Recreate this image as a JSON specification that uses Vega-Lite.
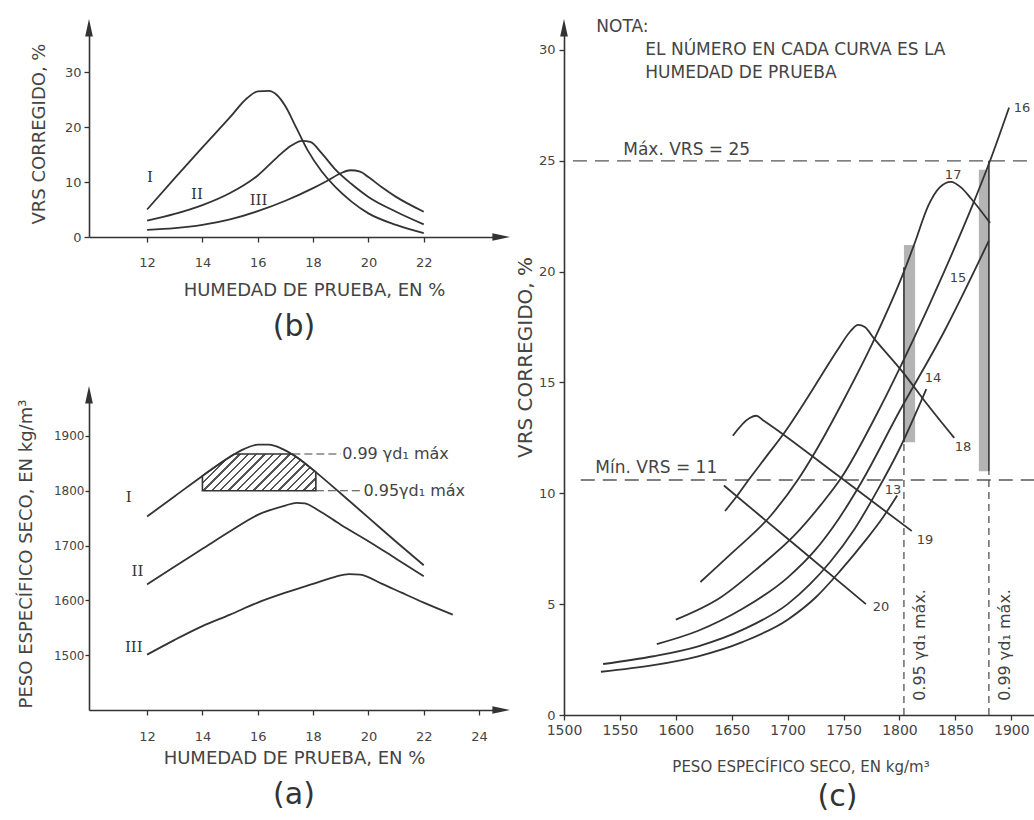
{
  "$schema": "https://vega.github.io/schema/vega-lite/v6.json",
  "padding": {"left": 17, "top": 18, "right": 0, "bottom": 0},
  "background": "white",
  "config": {
    "view": {"stroke": null},
    "font": "DejaVu Sans",
    "axis": {
      "grid": false,
      "domainColor": "#333",
      "domainWidth": 1.6,
      "tickColor": "#333",
      "tickWidth": 1.3,
      "tickSize": 5,
      "labelColor": "#444",
      "labelFont": "DejaVu Sans",
      "labelFontSize": 13,
      "labelFlush": false,
      "labelOverlap": false,
      "format": "d",
      "titleColor": "#444",
      "titleFont": "DejaVu Sans",
      "titleFontWeight": "normal",
      "titleFontSize": 18
    },
    "title": {"font": "DejaVu Sans", "fontWeight": "normal", "color": "#333", "fontSize": 30}
  },
  "spacing": 5,
  "hconcat": [
    {
      "bounds": "flush",
      "spacing": 160,
      "vconcat": [
        {
          "width": 410,
          "height": 207,
          "title": {"text": "(b)", "orient": "bottom", "offset": 13, "anchor": "middle"},
          "layer": [
            {
              "data": {"values": [
                {"curva": "I", "humedad": 12, "vrs": 5.0},
                {"curva": "I", "humedad": 13, "vrs": 10.7},
                {"curva": "I", "humedad": 14, "vrs": 16.3},
                {"curva": "I", "humedad": 15, "vrs": 21.8},
                {"curva": "I", "humedad": 15.6, "vrs": 25.2},
                {"curva": "I", "humedad": 16, "vrs": 26.5},
                {"curva": "I", "humedad": 16.4, "vrs": 26.6},
                {"curva": "I", "humedad": 16.7, "vrs": 25.8},
                {"curva": "I", "humedad": 17, "vrs": 23.8},
                {"curva": "I", "humedad": 17.4, "vrs": 19.8},
                {"curva": "I", "humedad": 17.8, "vrs": 15.8},
                {"curva": "I", "humedad": 18.3, "vrs": 12.0},
                {"curva": "I", "humedad": 18.8, "vrs": 9.1},
                {"curva": "I", "humedad": 19.4, "vrs": 6.4},
                {"curva": "I", "humedad": 20, "vrs": 4.3},
                {"curva": "I", "humedad": 21, "vrs": 2.2},
                {"curva": "I", "humedad": 22, "vrs": 0.7},
                {"curva": "II", "humedad": 12, "vrs": 3.0},
                {"curva": "II", "humedad": 13, "vrs": 4.2},
                {"curva": "II", "humedad": 14, "vrs": 5.8},
                {"curva": "II", "humedad": 15, "vrs": 8.0},
                {"curva": "II", "humedad": 16, "vrs": 11.2},
                {"curva": "II", "humedad": 16.7, "vrs": 14.5},
                {"curva": "II", "humedad": 17.2, "vrs": 16.6},
                {"curva": "II", "humedad": 17.6, "vrs": 17.5},
                {"curva": "II", "humedad": 17.9, "vrs": 17.3},
                {"curva": "II", "humedad": 18.3, "vrs": 15.3},
                {"curva": "II", "humedad": 18.8, "vrs": 12.3},
                {"curva": "II", "humedad": 19.4, "vrs": 9.6},
                {"curva": "II", "humedad": 20, "vrs": 7.3},
                {"curva": "II", "humedad": 21, "vrs": 4.6},
                {"curva": "II", "humedad": 22, "vrs": 2.3},
                {"curva": "III", "humedad": 12, "vrs": 1.3},
                {"curva": "III", "humedad": 13, "vrs": 1.6},
                {"curva": "III", "humedad": 14, "vrs": 2.2},
                {"curva": "III", "humedad": 15, "vrs": 3.2},
                {"curva": "III", "humedad": 16, "vrs": 4.7},
                {"curva": "III", "humedad": 17, "vrs": 6.6},
                {"curva": "III", "humedad": 18, "vrs": 8.9},
                {"curva": "III", "humedad": 18.5, "vrs": 10.2},
                {"curva": "III", "humedad": 19, "vrs": 11.6},
                {"curva": "III", "humedad": 19.35, "vrs": 12.15},
                {"curva": "III", "humedad": 19.7, "vrs": 11.9},
                {"curva": "III", "humedad": 20, "vrs": 10.9},
                {"curva": "III", "humedad": 20.5, "vrs": 9.0},
                {"curva": "III", "humedad": 21, "vrs": 7.3},
                {"curva": "III", "humedad": 22, "vrs": 4.6}
              ]},
              "mark": {"type": "line", "interpolate": "monotone", "color": "#333", "strokeWidth": 1.8},
              "encoding": {
                "x": {"field": "humedad", "type": "quantitative", "scale": {"domain": [9.9, 24.72], "nice": false, "zero": false},
                  "axis": {"title": "HUMEDAD DE PRUEBA, EN %", "values": [12, 14, 16, 18, 20, 22], "labelPadding": 14, "titlePadding": 12, "titleX": 225}},
                "y": {"field": "vrs", "type": "quantitative", "scale": {"domain": [0, 37.67], "nice": false},
                  "axis": {"title": "VRS CORREGIDO, %", "values": [0, 10, 20, 30], "labelPadding": 3, "titlePadding": 16}},
                "detail": {"field": "curva"}
              }
            },
            {
              "data": {"values": [
                {"texto": "I", "humedad": 12.1, "vrs": 10.9},
                {"texto": "II", "humedad": 13.8, "vrs": 7.9},
                {"texto": "III", "humedad": 16.03, "vrs": 6.7}
              ]},
              "mark": {"type": "text", "font": "DejaVu Serif", "fontSize": 15, "color": "#333"},
              "encoding": {
                "x": {"field": "humedad", "type": "quantitative"},
                "y": {"field": "vrs", "type": "quantitative"},
                "text": {"field": "texto"}
              }
            },
            {
              "data": {"values": [{}]},
              "mark": {"type": "point", "shape": "M0,-1L0.35,0.6L-0.35,0.6Z", "filled": true, "size": 484, "color": "#333", "opacity": 1},
              "encoding": {"x": {"datum": 9.9}, "y": {"datum": 37.67}}
            },
            {
              "data": {"values": [{}]},
              "mark": {"type": "point", "shape": "M1,0L-0.6,0.35L-0.6,-0.35Z", "filled": true, "size": 484, "color": "#333", "opacity": 1},
              "encoding": {"x": {"datum": 24.72}, "y": {"datum": 0}}
            }
          ]
        },
        {
          "width": 410,
          "height": 313,
          "title": {"text": "(a)", "orient": "bottom", "offset": 13, "anchor": "middle"},
          "layer": [
            {
              "data": {"values": [
                {"humedad": 14, "peso": 1827},
                {"humedad": 14.5, "peso": 1845},
                {"humedad": 15, "peso": 1862},
                {"humedad": 15.15, "peso": 1867},
                {"humedad": 17.25, "peso": 1867},
                {"humedad": 17.5, "peso": 1858},
                {"humedad": 18, "peso": 1838},
                {"humedad": 18.1, "peso": 1834}
              ]},
              "mark": {
                "type": "area",
                "stroke": "#333",
                "strokeWidth": 1.6,
                "fill": {
                  "gradient": "linear", "x1": 0, "y1": 0, "x2": 1.198, "y2": 0.388,
                  "stops": [
                    {"offset": 0.0, "color": "#ffffff"}, {"offset": 0.02, "color": "#ffffff"}, {"offset": 0.02, "color": "#555555"}, {"offset": 0.0356, "color": "#555555"}, {"offset": 0.0356, "color": "#ffffff"},
                    {"offset": 0.0756, "color": "#ffffff"}, {"offset": 0.0756, "color": "#555555"}, {"offset": 0.0912, "color": "#555555"}, {"offset": 0.0912, "color": "#ffffff"},
                    {"offset": 0.1311, "color": "#ffffff"}, {"offset": 0.1311, "color": "#555555"}, {"offset": 0.1467, "color": "#555555"}, {"offset": 0.1467, "color": "#ffffff"},
                    {"offset": 0.1867, "color": "#ffffff"}, {"offset": 0.1867, "color": "#555555"}, {"offset": 0.2023, "color": "#555555"}, {"offset": 0.2023, "color": "#ffffff"},
                    {"offset": 0.2422, "color": "#ffffff"}, {"offset": 0.2422, "color": "#555555"}, {"offset": 0.2578, "color": "#555555"}, {"offset": 0.2578, "color": "#ffffff"},
                    {"offset": 0.2978, "color": "#ffffff"}, {"offset": 0.2978, "color": "#555555"}, {"offset": 0.3134, "color": "#555555"}, {"offset": 0.3134, "color": "#ffffff"},
                    {"offset": 0.3533, "color": "#ffffff"}, {"offset": 0.3533, "color": "#555555"}, {"offset": 0.3689, "color": "#555555"}, {"offset": 0.3689, "color": "#ffffff"},
                    {"offset": 0.4089, "color": "#ffffff"}, {"offset": 0.4089, "color": "#555555"}, {"offset": 0.4245, "color": "#555555"}, {"offset": 0.4245, "color": "#ffffff"},
                    {"offset": 0.4644, "color": "#ffffff"}, {"offset": 0.4644, "color": "#555555"}, {"offset": 0.48, "color": "#555555"}, {"offset": 0.48, "color": "#ffffff"},
                    {"offset": 0.52, "color": "#ffffff"}, {"offset": 0.52, "color": "#555555"}, {"offset": 0.5356, "color": "#555555"}, {"offset": 0.5356, "color": "#ffffff"},
                    {"offset": 0.5756, "color": "#ffffff"}, {"offset": 0.5756, "color": "#555555"}, {"offset": 0.5912, "color": "#555555"}, {"offset": 0.5912, "color": "#ffffff"},
                    {"offset": 0.6311, "color": "#ffffff"}, {"offset": 0.6311, "color": "#555555"}, {"offset": 0.6467, "color": "#555555"}, {"offset": 0.6467, "color": "#ffffff"},
                    {"offset": 0.6867, "color": "#ffffff"}, {"offset": 0.6867, "color": "#555555"}, {"offset": 0.7023, "color": "#555555"}, {"offset": 0.7023, "color": "#ffffff"},
                    {"offset": 0.7422, "color": "#ffffff"}, {"offset": 0.7422, "color": "#555555"}, {"offset": 0.7578, "color": "#555555"}, {"offset": 0.7578, "color": "#ffffff"},
                    {"offset": 0.7978, "color": "#ffffff"}, {"offset": 0.7978, "color": "#555555"}, {"offset": 0.8134, "color": "#555555"}, {"offset": 0.8134, "color": "#ffffff"},
                    {"offset": 0.8533, "color": "#ffffff"}, {"offset": 0.8533, "color": "#555555"}, {"offset": 0.8689, "color": "#555555"}, {"offset": 0.8689, "color": "#ffffff"},
                    {"offset": 0.9089, "color": "#ffffff"}, {"offset": 0.9089, "color": "#555555"}, {"offset": 0.9245, "color": "#555555"}, {"offset": 0.9245, "color": "#ffffff"},
                    {"offset": 0.9644, "color": "#ffffff"}, {"offset": 0.9644, "color": "#555555"}, {"offset": 0.98, "color": "#555555"}, {"offset": 0.98, "color": "#ffffff"},
                    {"offset": 1.0, "color": "#ffffff"}
                  ]
                }
              },
              "encoding": {
                "x": {"field": "humedad", "type": "quantitative", "scale": {"domain": [9.9, 24.72], "nice": false, "zero": false},
                  "axis": {"title": "HUMEDAD DE PRUEBA, EN %", "values": [12, 14, 16, 18, 20, 22, 24], "labelPadding": 15, "titlePadding": 6}},
                "y": {"field": "peso", "type": "quantitative", "scale": {"domain": [1400, 1971], "nice": false, "zero": false},
                  "axis": {"title": "PESO ESPECÍFICO SECO, EN kg/m³", "values": [1500, 1600, 1700, 1800, 1900], "labelFontSize": 12, "tickSize": 4, "labelPadding": 1, "titlePadding": 18}},
                "y2": {"datum": 1800}
              }
            },
            {
              "data": {"values": [
                {"humedad": 17.25, "humedad2": 19.0, "peso": 1867},
                {"humedad": 18.1, "humedad2": 19.76, "peso": 1800}
              ]},
              "mark": {"type": "rule", "color": "#444", "strokeWidth": 1.2, "strokeDash": [8, 4]},
              "encoding": {
                "x": {"field": "humedad", "type": "quantitative"},
                "x2": {"field": "humedad2"},
                "y": {"field": "peso", "type": "quantitative"}
              }
            },
            {
              "data": {"values": [
                {"curva": "I", "humedad": 12, "peso": 1753},
                {"curva": "I", "humedad": 13, "peso": 1790},
                {"curva": "I", "humedad": 14, "peso": 1827},
                {"curva": "I", "humedad": 15, "peso": 1862},
                {"curva": "I", "humedad": 15.5, "peso": 1876},
                {"curva": "I", "humedad": 16, "peso": 1884},
                {"curva": "I", "humedad": 16.4, "peso": 1884},
                {"curva": "I", "humedad": 16.9, "peso": 1876},
                {"curva": "I", "humedad": 17.5, "peso": 1858},
                {"curva": "I", "humedad": 18, "peso": 1838},
                {"curva": "I", "humedad": 19, "peso": 1795},
                {"curva": "I", "humedad": 20, "peso": 1751},
                {"curva": "I", "humedad": 21, "peso": 1707},
                {"curva": "I", "humedad": 22, "peso": 1664},
                {"curva": "II", "humedad": 12, "peso": 1629},
                {"curva": "II", "humedad": 13, "peso": 1662},
                {"curva": "II", "humedad": 14, "peso": 1694},
                {"curva": "II", "humedad": 15, "peso": 1726},
                {"curva": "II", "humedad": 16, "peso": 1756},
                {"curva": "II", "humedad": 17, "peso": 1773},
                {"curva": "II", "humedad": 17.4, "peso": 1778},
                {"curva": "II", "humedad": 17.7, "peso": 1777},
                {"curva": "II", "humedad": 18.2, "peso": 1764},
                {"curva": "II", "humedad": 19, "peso": 1738},
                {"curva": "II", "humedad": 20, "peso": 1708},
                {"curva": "II", "humedad": 21, "peso": 1676},
                {"curva": "II", "humedad": 22, "peso": 1644},
                {"curva": "III", "humedad": 12, "peso": 1501},
                {"curva": "III", "humedad": 13, "peso": 1528},
                {"curva": "III", "humedad": 14, "peso": 1553},
                {"curva": "III", "humedad": 15, "peso": 1574},
                {"curva": "III", "humedad": 16, "peso": 1596},
                {"curva": "III", "humedad": 17, "peso": 1614},
                {"curva": "III", "humedad": 18, "peso": 1630},
                {"curva": "III", "humedad": 18.8, "peso": 1643},
                {"curva": "III", "humedad": 19.3, "peso": 1648},
                {"curva": "III", "humedad": 19.7, "peso": 1647},
                {"curva": "III", "humedad": 20.5, "peso": 1630},
                {"curva": "III", "humedad": 21.2, "peso": 1614},
                {"curva": "III", "humedad": 22, "peso": 1596},
                {"curva": "III", "humedad": 23.05, "peso": 1574}
              ]},
              "mark": {"type": "line", "interpolate": "monotone", "color": "#333", "strokeWidth": 1.8},
              "encoding": {
                "x": {"field": "humedad", "type": "quantitative"},
                "y": {"field": "peso", "type": "quantitative"},
                "detail": {"field": "curva"}
              }
            },
            {
              "data": {"values": [
                {"texto": "I", "humedad": 11.34, "peso": 1789},
                {"texto": "II", "humedad": 11.65, "peso": 1654},
                {"texto": "III", "humedad": 11.52, "peso": 1515}
              ]},
              "mark": {"type": "text", "font": "DejaVu Serif", "fontSize": 15, "color": "#333"},
              "encoding": {
                "x": {"field": "humedad", "type": "quantitative"},
                "y": {"field": "peso", "type": "quantitative"},
                "text": {"field": "texto"}
              }
            },
            {
              "data": {"values": [
                {"texto": "0.99 γd₁ máx", "humedad": 19.05, "peso": 1867},
                {"texto": "0.95γd₁ máx", "humedad": 19.82, "peso": 1800}
              ]},
              "mark": {"type": "text", "align": "left", "baseline": "middle", "fontSize": 16, "color": "#444"},
              "encoding": {
                "x": {"field": "humedad", "type": "quantitative"},
                "y": {"field": "peso", "type": "quantitative"},
                "text": {"field": "texto"}
              }
            },
            {
              "data": {"values": [{}]},
              "mark": {"type": "point", "shape": "M0,-1L0.35,0.6L-0.35,0.6Z", "filled": true, "size": 484, "color": "#333", "opacity": 1},
              "encoding": {"x": {"datum": 9.9}, "y": {"datum": 1971}}
            },
            {
              "data": {"values": [{}]},
              "mark": {"type": "point", "shape": "M1,0L-0.6,0.35L-0.6,-0.35Z", "filled": true, "size": 484, "color": "#333", "opacity": 1},
              "encoding": {"x": {"datum": 24.72}, "y": {"datum": 1400}}
            }
          ]
        }
      ]
    },
    {
      "width": 473,
      "height": 685,
      "title": {"text": "(c)", "orient": "bottom", "offset": 8, "anchor": "middle", "dx": 37},
      "layer": [
        {
          "data": {"values": [
            {"peso": 1804, "peso2": 1814, "vrs": 12.3, "vrs2": 21.2},
            {"peso": 1871, "peso2": 1880, "vrs": 11.0, "vrs2": 24.6}
          ]},
          "mark": {"type": "rect", "color": "#b4b4b4"},
          "encoding": {
            "x": {"field": "peso", "type": "quantitative", "scale": {"domain": [1500, 1923], "nice": false, "zero": false},
              "axis": {"title": "PESO ESPECÍFICO SECO, EN kg/m³", "values": [1500, 1550, 1600, 1650, 1700, 1750, 1800, 1850, 1900], "labelFontSize": 14, "labelPadding": 3, "titlePadding": 22, "titleFontSize": 15}},
            "x2": {"field": "peso2"},
            "y": {"field": "vrs", "type": "quantitative", "scale": {"domain": [0, 30.9], "nice": false},
              "axis": {"title": "VRS CORREGIDO, %", "values": [0, 5, 10, 15, 20, 25, 30], "labelPadding": 4, "titlePadding": 3, "titleFontSize": 20, "titleY": 327}},
            "y2": {"field": "vrs2"}
          }
        },
        {
          "data": {"values": [
            {"peso": 1508, "peso2": 1923, "vrs": 25.0},
            {"peso": 1515, "peso2": 1923, "vrs": 10.6}
          ]},
          "mark": {"type": "rule", "color": "#555", "strokeWidth": 1.3, "strokeDash": [14, 8]},
          "encoding": {
            "x": {"field": "peso", "type": "quantitative"},
            "x2": {"field": "peso2"},
            "y": {"field": "vrs", "type": "quantitative"}
          }
        },
        {
          "data": {"values": [
            {"peso": 1804, "vrs": 0, "vrs2": 12.3},
            {"peso": 1880, "vrs": 0, "vrs2": 11.0}
          ]},
          "mark": {"type": "rule", "color": "#444", "strokeWidth": 1.2, "strokeDash": [7, 5]},
          "encoding": {
            "x": {"field": "peso", "type": "quantitative"},
            "y": {"field": "vrs", "type": "quantitative"},
            "y2": {"field": "vrs2"}
          }
        },
        {
          "data": {"values": [
            {"peso": 1804, "vrs": 12.3, "vrs2": 20.2},
            {"peso": 1880, "vrs": 11.0, "vrs2": 25.0}
          ]},
          "mark": {"type": "rule", "color": "#333", "strokeWidth": 1.6},
          "encoding": {
            "x": {"field": "peso", "type": "quantitative"},
            "y": {"field": "vrs", "type": "quantitative"},
            "y2": {"field": "vrs2"}
          }
        },
        {
          "data": {"values": [
            {"curva": "13", "peso": 1533, "vrs": 1.95},
            {"curva": "13", "peso": 1580, "vrs": 2.25},
            {"curva": "13", "peso": 1620, "vrs": 2.65},
            {"curva": "13", "peso": 1660, "vrs": 3.3},
            {"curva": "13", "peso": 1700, "vrs": 4.3},
            {"curva": "13", "peso": 1725, "vrs": 5.3},
            {"curva": "13", "peso": 1747, "vrs": 6.5},
            {"curva": "13", "peso": 1770, "vrs": 7.9},
            {"curva": "13", "peso": 1785, "vrs": 8.9},
            {"curva": "13", "peso": 1798, "vrs": 9.9},
            {"curva": "14", "peso": 1535, "vrs": 2.3},
            {"curva": "14", "peso": 1580, "vrs": 2.65},
            {"curva": "14", "peso": 1620, "vrs": 3.1},
            {"curva": "14", "peso": 1660, "vrs": 3.85},
            {"curva": "14", "peso": 1700, "vrs": 5.0},
            {"curva": "14", "peso": 1720, "vrs": 5.9},
            {"curva": "14", "peso": 1738, "vrs": 6.9},
            {"curva": "14", "peso": 1760, "vrs": 8.4},
            {"curva": "14", "peso": 1781, "vrs": 10.2},
            {"curva": "14", "peso": 1800, "vrs": 12.0},
            {"curva": "14", "peso": 1824, "vrs": 14.7},
            {"curva": "15", "peso": 1583, "vrs": 3.2},
            {"curva": "15", "peso": 1620, "vrs": 3.8},
            {"curva": "15", "peso": 1660, "vrs": 4.8},
            {"curva": "15", "peso": 1700, "vrs": 6.2},
            {"curva": "15", "peso": 1724, "vrs": 7.4},
            {"curva": "15", "peso": 1745, "vrs": 8.8},
            {"curva": "15", "peso": 1766, "vrs": 10.5},
            {"curva": "15", "peso": 1800, "vrs": 13.7},
            {"curva": "15", "peso": 1840, "vrs": 17.3},
            {"curva": "15", "peso": 1880, "vrs": 21.4},
            {"curva": "16", "peso": 1600, "vrs": 4.3},
            {"curva": "16", "peso": 1640, "vrs": 5.3},
            {"curva": "16", "peso": 1675, "vrs": 6.7},
            {"curva": "16", "peso": 1706, "vrs": 8.1},
            {"curva": "16", "peso": 1730, "vrs": 9.5},
            {"curva": "16", "peso": 1748, "vrs": 10.7},
            {"curva": "16", "peso": 1780, "vrs": 13.6},
            {"curva": "16", "peso": 1813, "vrs": 17.0},
            {"curva": "16", "peso": 1840, "vrs": 20.0},
            {"curva": "16", "peso": 1867, "vrs": 23.2},
            {"curva": "16", "peso": 1881, "vrs": 25.0},
            {"curva": "16", "peso": 1898, "vrs": 27.4},
            {"curva": "17", "peso": 1622, "vrs": 6.0},
            {"curva": "17", "peso": 1650, "vrs": 7.3},
            {"curva": "17", "peso": 1685, "vrs": 9.0},
            {"curva": "17", "peso": 1709, "vrs": 10.6},
            {"curva": "17", "peso": 1725, "vrs": 11.9},
            {"curva": "17", "peso": 1750, "vrs": 14.2},
            {"curva": "17", "peso": 1778, "vrs": 17.0},
            {"curva": "17", "peso": 1804, "vrs": 20.0},
            {"curva": "17", "peso": 1813, "vrs": 21.2},
            {"curva": "17", "peso": 1826, "vrs": 23.0},
            {"curva": "17", "peso": 1836, "vrs": 23.8},
            {"curva": "17", "peso": 1846, "vrs": 24.05},
            {"curva": "17", "peso": 1855, "vrs": 23.8},
            {"curva": "17", "peso": 1864, "vrs": 23.3},
            {"curva": "17", "peso": 1881, "vrs": 22.2},
            {"curva": "18", "peso": 1644, "vrs": 9.2},
            {"curva": "18", "peso": 1655, "vrs": 9.9},
            {"curva": "18", "peso": 1665, "vrs": 10.6},
            {"curva": "18", "peso": 1680, "vrs": 11.6},
            {"curva": "18", "peso": 1698, "vrs": 12.8},
            {"curva": "18", "peso": 1715, "vrs": 14.1},
            {"curva": "18", "peso": 1730, "vrs": 15.3},
            {"curva": "18", "peso": 1745, "vrs": 16.5},
            {"curva": "18", "peso": 1756, "vrs": 17.3},
            {"curva": "18", "peso": 1763, "vrs": 17.6},
            {"curva": "18", "peso": 1769, "vrs": 17.5},
            {"curva": "18", "peso": 1777, "vrs": 17.0},
            {"curva": "18", "peso": 1804, "vrs": 15.4},
            {"curva": "18", "peso": 1822, "vrs": 14.2},
            {"curva": "18", "peso": 1849, "vrs": 12.5},
            {"curva": "19", "peso": 1651, "vrs": 12.6},
            {"curva": "19", "peso": 1666, "vrs": 13.4},
            {"curva": "19", "peso": 1672, "vrs": 13.5},
            {"curva": "19", "peso": 1678, "vrs": 13.3},
            {"curva": "19", "peso": 1745, "vrs": 10.8},
            {"curva": "19", "peso": 1811, "vrs": 8.3},
            {"curva": "20", "peso": 1643, "vrs": 10.35},
            {"curva": "20", "peso": 1706, "vrs": 7.7},
            {"curva": "20", "peso": 1770, "vrs": 5.0}
          ]},
          "mark": {"type": "line", "interpolate": "monotone", "color": "#333", "strokeWidth": 1.8},
          "encoding": {
            "x": {"field": "peso", "type": "quantitative"},
            "y": {"field": "vrs", "type": "quantitative"},
            "detail": {"field": "curva"}
          }
        },
        {
          "data": {"values": [
            {"texto": "16", "peso": 1909.6, "vrs": 27.38},
            {"texto": "17", "peso": 1848, "vrs": 24.36},
            {"texto": "15", "peso": 1852.4, "vrs": 19.71},
            {"texto": "14", "peso": 1830, "vrs": 15.2},
            {"texto": "13", "peso": 1794.3, "vrs": 10.15},
            {"texto": "18", "peso": 1856.9, "vrs": 12.09},
            {"texto": "19", "peso": 1822.9, "vrs": 7.89},
            {"texto": "20", "peso": 1783.5, "vrs": 4.87}
          ]},
          "mark": {"type": "text", "fontSize": 13, "color": "#444"},
          "encoding": {
            "x": {"field": "peso", "type": "quantitative"},
            "y": {"field": "vrs", "type": "quantitative"},
            "text": {"field": "texto"}
          }
        },
        {
          "data": {"values": [
            {"texto": "NOTA:", "peso": 1528.9, "vrs": 31.03},
            {"texto": "EL NÚMERO EN CADA CURVA ES LA", "peso": 1572.7, "vrs": 30.0},
            {"texto": "HUMEDAD DE PRUEBA", "peso": 1572.7, "vrs": 28.96},
            {"texto": "Máx. VRS = 25", "peso": 1553, "vrs": 25.5},
            {"texto": "Mín. VRS = 11", "peso": 1528, "vrs": 11.15}
          ]},
          "mark": {"type": "text", "align": "left", "baseline": "middle", "fontSize": 17, "color": "#444"},
          "encoding": {
            "x": {"field": "peso", "type": "quantitative"},
            "y": {"field": "vrs", "type": "quantitative"},
            "text": {"field": "texto"}
          }
        },
        {
          "data": {"values": [
            {"texto": "0.95 γd₁ máx.", "peso": 1818.1, "vrs": 3.16},
            {"texto": "0.99 γd₁ máx.", "peso": 1894.1, "vrs": 3.16}
          ]},
          "mark": {"type": "text", "angle": 270, "align": "center", "baseline": "middle", "fontSize": 16, "color": "#444"},
          "encoding": {
            "x": {"field": "peso", "type": "quantitative"},
            "y": {"field": "vrs", "type": "quantitative"},
            "text": {"field": "texto"}
          }
        },
        {
          "data": {"values": [{}]},
          "mark": {"type": "point", "shape": "M0,-1L0.35,0.6L-0.35,0.6Z", "filled": true, "size": 484, "color": "#333", "opacity": 1},
          "encoding": {"x": {"datum": 1500}, "y": {"datum": 30.9}}
        }
      ]
    }
  ]
}
